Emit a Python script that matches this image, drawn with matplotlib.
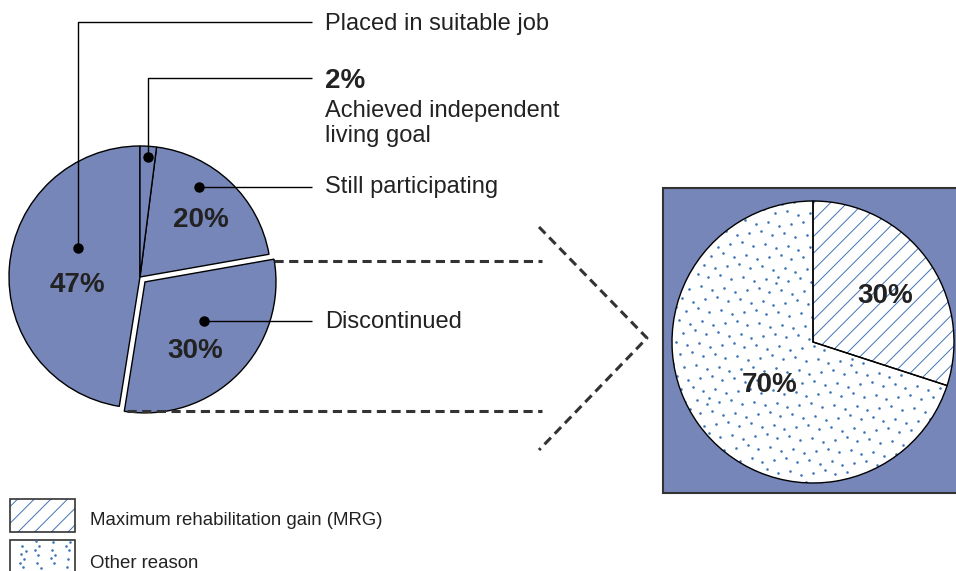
import numpy as np
import matplotlib
matplotlib.use('Agg')
import matplotlib.pyplot as plt
from matplotlib.patches import Rectangle, Wedge

plt.rcParams['font.family'] = ['Liberation Sans', 'DejaVu Sans']
plt.rcParams['hatch.linewidth'] = 0.7

# ---- data ----
outcome_labels = ['Placed in suitable job', 'Discontinued', 'Still participating',
                  'Achieved independent\nliving goal']
outcome_pct = [47, 30, 20, 2]
reason_labels = ['Maximum rehabilitation gain (MRG)', 'Other reason']
reason_pct = [30, 70]

# ---- style ----
BLUE = '#7686b8'
INK = '#222222'
TEX = '#3f74b5'
W, H = 956, 571


def py(y):
    # pixel row -> data y
    return H - y


fig = plt.figure(figsize=(9.56, 5.71), dpi=100)
ax = fig.add_axes([0, 0, 1, 1])

# left pie (30% slice pulled out, explode is in data units here)
c1 = (140, py(277))
ax.pie(outcome_pct, startangle=90, counterclock=True, explode=[0, 7, 0, 0],
       center=c1, radius=131, colors=[BLUE] * 4,
       wedgeprops=dict(edgecolor='black', linewidth=1.0))

# percent labels on left pie
pct_pos = {47: (77, 292), 30: (195, 358), 20: (201, 227)}
for v, (x, y) in pct_pos.items():
    ax.text(x, py(y), f'{v}%', ha='center', va='baseline', fontsize=20,
            fontweight='bold', color=INK)

# callouts: dot -> elbow -> text
callouts = [((78, 248), 22, 30, outcome_labels[0]),
            ((148, 157), 78, None, None),
            ((199, 187), 187, 193, outcome_labels[2]),
            ((204, 321), 321, 328, outcome_labels[1])]
for (dx, dy), ly, tb, txt in callouts:
    ax.plot([dx, dx, 312], [py(dy), py(ly), py(ly)], color='black', lw=1.0,
            solid_capstyle='butt')
    ax.plot(dx, py(dy), 'o', color='black', ms=6.5)
    if txt:
        ax.text(325, py(tb), txt, ha='left', va='baseline', fontsize=17, color=INK)

ax.text(325, py(88), f'{outcome_pct[3]}%', ha='left', va='baseline',
        fontsize=20, fontweight='bold', color=INK)
ax.text(325, py(117), 'Achieved independent', ha='left', va='baseline',
        fontsize=17, color=INK)
ax.text(325, py(142), 'living goal', ha='left', va='baseline',
        fontsize=17, color=INK)

# dashed zoom lines
dash = dict(color='#333333', lw=2.2, ls=(0, (3, 1.8)))
ax.plot([274, 542], [py(261), py(261)], **dash)
ax.plot([127, 542], [py(411), py(411)], **dash)
ax.plot([539, 647, 539], [py(227), py(338), py(450)], **dash)

# right panel: box + breakdown pie
ax.add_patch(Rectangle((663, py(493)), 300, 305, facecolor=BLUE,
                       edgecolor='#333333', lw=1.5))
c2 = (813, py(342))
r2 = 141
wedges, _ = ax.pie(reason_pct, startangle=90, counterclock=False, center=c2,
                   radius=r2, colors=['white', 'white'],
                   wedgeprops=dict(edgecolor='none', linewidth=0))

# hatch on MRG slice
w0 = wedges[0]
ax.add_patch(Wedge(c2, r2, w0.theta1, w0.theta2, facecolor='none',
                   edgecolor=TEX, hatch='//', lw=0))

# stipple texture (low-discrepancy point set, purely decorative)
g = 1.32471795724474602596
n = np.arange(620)
tx = (0.37 + n / g) % 1.0
ty = (0.71 + n / g ** 2) % 1.0
dots = ax.scatter(c2[0] - r2 + tx * 2 * r2, c2[1] - r2 + ty * 2 * r2,
                  s=3.5, color=TEX, lw=0)
dots.set_clip_path(wedges[1])

for w in wedges:
    ax.add_patch(Wedge(c2, r2, w.theta1, w.theta2, facecolor='none',
                       edgecolor='black', lw=1.0))

ax.text(885, py(303), f'{reason_pct[0]}%', ha='center', va='baseline',
        fontsize=20, fontweight='bold', color=INK)
ax.text(770, py(392), f'{reason_pct[1]}%', ha='center', va='baseline',
        fontsize=20, fontweight='bold', color=INK)

# legend
ax.add_patch(Rectangle((10, py(532)), 65, 33, facecolor='white', edgecolor='none'))
ax.add_patch(Rectangle((10, py(532)), 65, 33, facecolor='none', edgecolor=TEX,
                       hatch='//', lw=0))
ax.add_patch(Rectangle((10, py(532)), 65, 33, facecolor='none',
                       edgecolor='#333333', lw=1.2))
box2 = Rectangle((10, py(573)), 65, 33, facecolor='white', edgecolor='#333333', lw=1.2)
ax.add_patch(box2)
m = np.arange(22)
lx = (0.37 + m / g) % 1.0
ly = (0.71 + m / g ** 2) % 1.0
ld = ax.scatter(12 + lx * 61, py(571) + ly * 30, s=3.5, color=TEX, lw=0)
ld.set_clip_path(box2)

ax.text(90, py(525), reason_labels[0], ha='left', va='baseline', fontsize=13.4,
        color=INK)
ax.text(90, py(568), reason_labels[1], ha='left', va='baseline', fontsize=13.4,
        color=INK)

ax.set_xlim(0, W)
ax.set_ylim(0, H)
ax.set_aspect('auto')
ax.axis('off')

fig.savefig('out.png', dpi=100)
